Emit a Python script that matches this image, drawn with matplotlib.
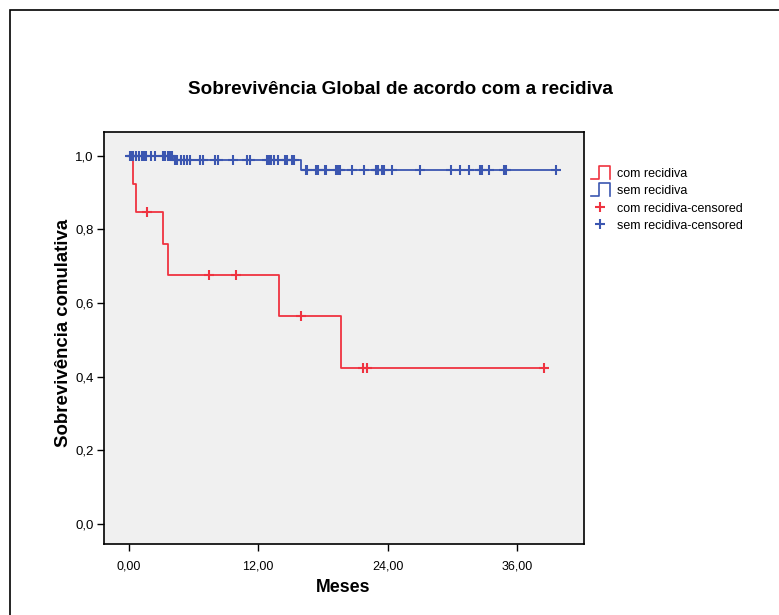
import numpy as np
import matplotlib
matplotlib.use("Agg")
import matplotlib.pyplot as plt
from matplotlib.lines import Line2D
from matplotlib.patches import Rectangle
from matplotlib.legend_handler import HandlerBase

plt.rcParams['font.family'] = ['Liberation Sans', 'DejaVu Sans']

# Kaplan-Meier data (months)
red_event_times = [0.4, 0.65, 3.18, 3.62, 13.95, 19.65]
red_surv = [0.923, 0.846, 0.761, 0.677, 0.564, 0.423]
red_censored = [1.7, 7.4, 9.95, 16.0, 21.7, 22.1, 38.5]

blue_event_times = [4.1, 16.0]
blue_surv = [0.987, 0.962]
blue_censored = [0.1, 0.2, 0.3, 0.4, 0.7, 0.96, 1.2, 1.4, 1.64, 2.1, 2.4, 3.15, 3.4,
                 3.6, 3.8, 4.0, 4.3, 4.5, 4.8, 5.1, 5.35, 5.65, 6.6, 6.85, 8.0, 8.3,
                 9.65, 10.95, 11.2, 12.8, 13.0, 13.2, 13.5, 13.8, 14.5, 14.65, 15.15,
                 15.35, 16.4, 16.55, 17.35, 17.5, 18.15, 18.3, 19.2, 19.4, 19.55, 20.7,
                 21.8, 22.9, 23.0, 23.1, 23.45, 23.7, 24.4, 27.0, 29.9, 30.7, 31.5,
                 32.55, 32.75, 33.4, 34.8, 35.0, 39.6]

labels = ['com recidiva', 'sem recidiva', 'com recidiva-censored', 'sem recidiva-censored']
x_ticks = [0, 12, 24, 36]
y_ticks = [0.0, 0.2, 0.4, 0.6, 0.8, 1.0]

red = '#ef3340'
blue = '#3b56b0'


def km_curve(event_times, surv, censored):
    end = max(max(event_times), max(censored))
    xs = [0] + list(event_times) + [end]
    ys = [1.0] + list(surv) + [surv[-1]]
    steps_t = np.array([0] + list(event_times))
    steps_s = np.array([1.0] + list(surv))
    idx = np.searchsorted(steps_t, censored, side='right') - 1
    return xs, ys, steps_s[idx]


class StepHandler(HandlerBase):
    # the little step glyph SPSS puts in its legend
    def create_artists(self, legend, orig_handle, xdescent, ydescent,
                       width, height, fontsize, trans):
        xs = np.array([0.0, 0.45, 0.45, 1.0, 1.0]) * width - xdescent
        ys = (np.array([-0.25, -0.25, 1.25, 1.25, -0.25]) * height) - ydescent
        ln = Line2D(xs, ys, color=orig_handle.get_color(), lw=1.2)
        ln.set_transform(trans)
        return [ln]


fig = plt.figure(figsize=(7.79, 6.15), dpi=100)
ax = fig.add_axes([104 / 779, 1 - 544 / 615, 480 / 779, 412 / 615])
ax.set_facecolor('#f0f0f0')

rx, ry, rc = km_curve(red_event_times, red_surv, red_censored)
bx, by, bc = km_curve(blue_event_times, blue_surv, blue_censored)

h_red, = ax.step(rx, ry, where='post', color=red, lw=1.3)
h_blue, = ax.step(bx, by, where='post', color=blue, lw=1.3)
c_red, = ax.plot(red_censored, rc, '+', color=red, ms=7, mew=1.5, ls='none')
c_blue, = ax.plot(blue_censored, bc, '+', color=blue, ms=7, mew=1.5, ls='none')

ax.set_xlim(-2.3, 42.2)
ax.set_ylim(-0.054, 1.064)
ax.set_xticks(x_ticks)
ax.set_xticklabels([f'{v:.2f}'.replace('.', ',') for v in x_ticks])
ax.set_yticks(y_ticks)
ax.set_yticklabels([f'{v:.1f}'.replace('.', ',') for v in y_ticks])
ax.tick_params(axis='x', length=5, width=1, pad=7, labelsize=9, colors='black')
ax.tick_params(axis='y', length=5, width=1, pad=2.5, labelsize=9.5, colors='black')
for s in ax.spines.values():
    s.set_linewidth(1.2)

fig.text(400 / 779, 1 - 89 / 615, 'Sobrevivência Global de acordo com a recidiva',
         ha='center', va='center', fontsize=13.6, fontweight='bold')
fig.text(343 / 779, 1 - 587 / 615, 'Meses', ha='center', va='center',
         fontsize=12.8, fontweight='bold')
fig.text(63 / 779, 1 - 333 / 615, 'Sobrevivência comulativa', ha='center', va='center',
         rotation=90, fontsize=13.4, fontweight='bold')

ax.legend([h_red, h_blue, c_red, c_blue], labels,
          handler_map={h_red: StepHandler(), h_blue: StepHandler()},
          loc='upper left', bbox_to_anchor=(591 / 779, 1 - 168 / 615),
          bbox_transform=fig.transFigure, frameon=False, fontsize=9,
          handlelength=1.5, handletextpad=0.6, labelspacing=0.42,
          borderpad=0, borderaxespad=0)

# outer chart frame
fig.add_artist(Rectangle((10 / 779, -0.1), 1.2, 1.1 - 10 / 615, transform=fig.transFigure,
                         fill=False, edgecolor='black', lw=1.2, clip_on=False))

fig.savefig('out.png', dpi=100)
